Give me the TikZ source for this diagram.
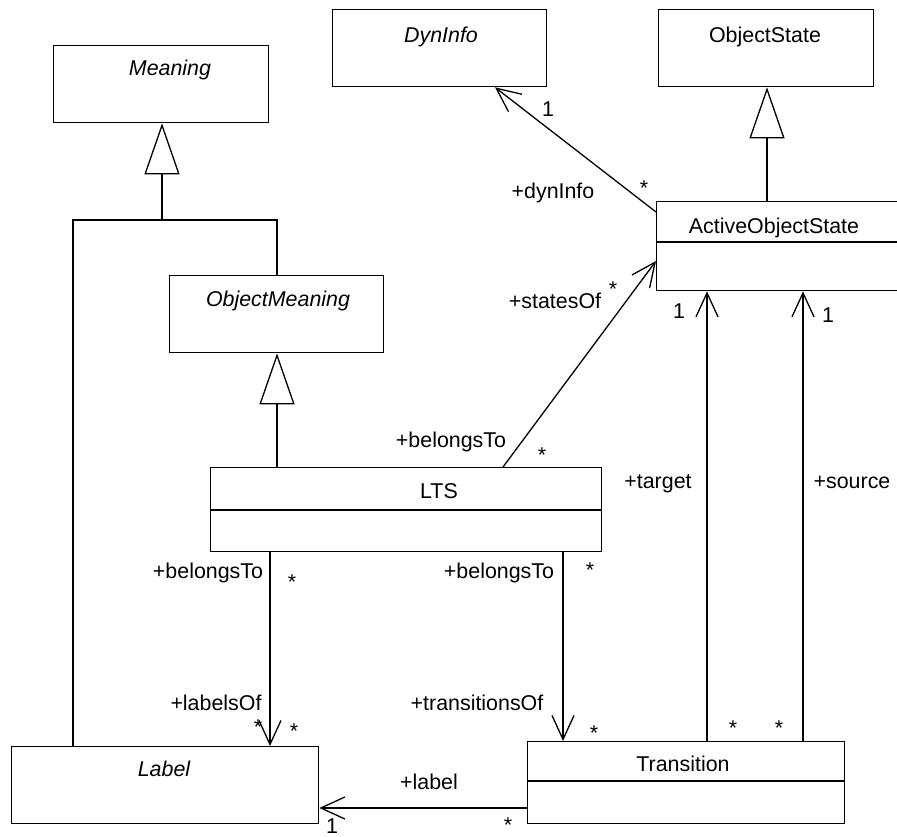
\documentclass[tikz,border=0pt]{standalone}
\usepackage{fontspec}
\setmainfont{Liberation Sans}
\usetikzlibrary{arrows.meta,calc}
\newcommand\umlfont{\fontsize{21.4pt}{26pt}\selectfont}

\begin{document}
\begin{tikzpicture}[x=1pt,y=-1pt,line width=1.3pt,
  every node/.style={font=\umlfont},
  classbox/.style={draw,anchor=north west,inner sep=0pt},
  classname/.style={anchor=base,inner sep=0pt},
  role/.style={anchor=base,inner sep=0pt},
  mult/.style={anchor=base,inner sep=0pt},
  assoc/.style={-{Straight Barb[length=24pt,width=22pt,line width=1.3pt]}},
  inherit/.style={-{Triangle[open,length=51pt,width=35pt,line width=1.3pt]}}]
\useasboundingbox (0,0) rectangle (897,836);
\clip (0,0) rectangle (897,836);

% classes
\node[classbox,minimum width=215pt,minimum height=77pt] (meaning) at (53,45) {};
\node[classname] (meaningname) at (170,75) {\itshape Meaning};

\node[classbox,minimum width=214pt,minimum height=77pt] (dyn) at (332,9) {};
\node[classname] (dynname) at (441,42) {\itshape DynInfo};

\node[classbox,minimum width=215pt,minimum height=77pt] (os) at (658,9) {};
\node[classname] (osname) at (765,42) {ObjectState};

\node[classbox,minimum width=250pt,minimum height=89pt] (aos) at (656,201) {};
\node[classname] (aosname) at (774,233) {ActiveObjectState};
\draw (aos.west |- 0,242) -- (aos.east |- 0,242);

\node[classbox,minimum width=214pt,minimum height=77pt] (om) at (169,275) {};
\node[classname] (omname) at (278,306) {\itshape ObjectMeaning};

\node[classbox,minimum width=391pt,minimum height=84pt] (lts) at (210,467) {};
\node[classname] (ltsname) at (439,498) {LTS};
\draw (lts.west |- 0,510) -- (lts.east |- 0,510);

\node[classbox,minimum width=307pt,minimum height=77pt] (label) at (11,746) {};
\node[classname] (labelname) at (164,776) {\itshape Label};

\node[classbox,minimum width=317pt,minimum height=82pt] (trans) at (527,741) {};
\node[classname] (transname) at (683,771) {Transition};
\draw (trans.west |- 0,781) -- (trans.east |- 0,781);

% generalizations
\coordinate (gj) at (162,220);
\draw ($(label.north west)+(62,0)$) |- (gj);
\draw ($(om.north west)+(108,0)$) |- (gj);
\draw[inherit] (gj) -- (gj |- meaning.south);
\draw[inherit] ($(lts.north west)+(67,0)$) -- ($(om.south west)+(108,0)$);
\draw[inherit] ($(aos.north west)+(111,0)$) -- ($(os.south west)+(109,0)$);

% associations
\draw[assoc] ($(aos.north west)+(0,11)$) -- ($(dyn.south west)+(163,0)$);
\draw[assoc] ($(lts.north west)+(293,0)$) -- ($(aos.north west)+(0,60)$);
\draw[assoc] ($(trans.north west)+(180,0)$) -- ($(aos.south west)+(51,0)$);
\draw[assoc] ($(trans.north west)+(276,0)$) -- ($(aos.south west)+(147,0)$);
\draw[assoc] ($(lts.south west)+(60,0)$) -- ($(label.north west)+(259,0)$);
\draw[assoc] ($(lts.south west)+(353,0)$) -- ($(trans.north west)+(36,0)$);
\draw[assoc] ($(trans.north west)+(0,67)$) -- ($(label.north east)+(0,62)$);

% roles and multiplicities
\node[role] (r1) at (553,198) {+dynInfo};
\node[mult] (m1a) at (548,116) {1};
\node[mult] (m1b) at (644,195) {*};

\node[role] (r2a) at (555,308) {+statesOf};
\node[mult] (m2a) at (613,296) {*};
\node[role] (r2b) at (451,447) {+belongsTo};
\node[mult] (m2b) at (542,462) {*};

\node[role] (r3) at (658,488) {+target};
\node[mult] (m3a) at (679,318) {1};
\node[mult] (m3b) at (733,735) {*};

\node[role] (r4) at (852,488) {+source};
\node[mult] (m4a) at (828,322) {1};
\node[mult] (m4b) at (779,735) {*};

\node[role] (r5a) at (208,578) {+belongsTo};
\node[mult] (m5a) at (292,589) {*};
\node[role] (r5b) at (216,710) {+labelsOf};
\node[mult] (m5b) at (258,734) {*};
\node[mult] (m5c) at (294,738) {*};

\node[role] (r6a) at (499,578) {+belongsTo};
\node[mult] (m6a) at (590,577) {*};
\node[role] (r6b) at (477,710) {+transitionsOf};
\node[mult] (m6b) at (594,740) {*};

\node[role] (r7) at (429,789) {+label};
\node[mult] (m7a) at (332,833) {1};
\node[mult] (m7b) at (508,832) {*};
\end{tikzpicture}
\end{document}
